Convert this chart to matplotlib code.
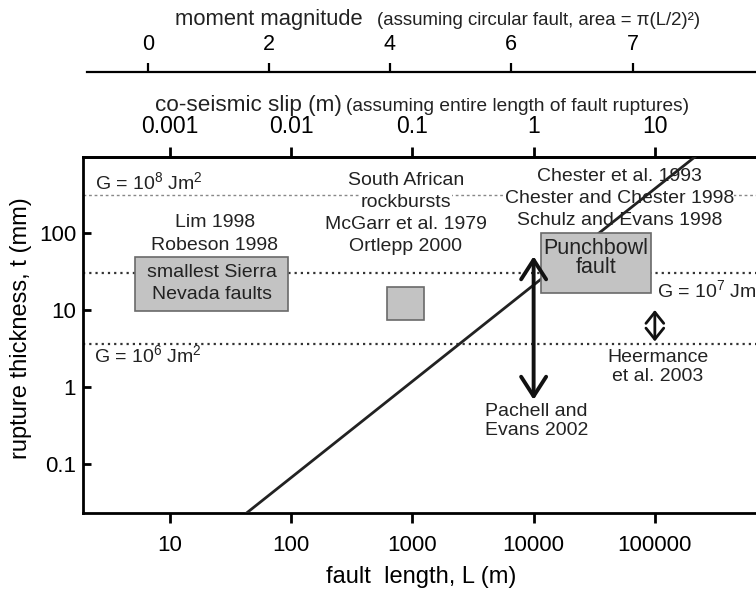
import matplotlib.pyplot as plt
from matplotlib.patches import Rectangle

plt.rcParams['font.family'] = ['Liberation Sans', 'DejaVu Sans']
plt.rcParams['mathtext.fontset'] = 'custom'
plt.rcParams['mathtext.rm'] = 'Liberation Sans'
plt.rcParams['mathtext.it'] = 'Liberation Sans:italic'
plt.rcParams['text.color'] = '#222222'

# eixos
x_ticks = [10, 100, 1000, 10000, 100000]
x_tick_labels = ['10', '100', '1000', '10000', '100000']
y_ticks = [0.1, 1, 10, 100]
y_tick_labels = ['0.1', '1', '10', '100']
slip_ticks = [0.001, 0.01, 0.1, 1, 10]
slip_tick_labels = ['0.001', '0.01', '0.1', '1', '10']
mag_labels = ['0', '2', '4', '6', '7']
mag_at_length = [6.6, 65.5, 652, 6490, 65800]

# linhas de energia de fratura G
G_labels = [r'G = 10$^{8}$ Jm$^{2}$', r'G = 10$^{7}$ Jm$^{2}$', r'G = 10$^{6}$ Jm$^{2}$']
G_thickness = [312, 30, 3.6]

# relacao de escala (linha diagonal)
scaling_L = [43, 214000]
scaling_t = [0.023, 980]

# caixas de dados
box_labels = ['smallest Sierra\nNevada faults', '', 'Punchbowl\nfault']
box_L_min = [5.1, 620, 11500]
box_L_max = [94, 1250, 93000]
box_t_min = [9.7, 7.4, 16.6]
box_t_max = [49, 20, 100]

# setas (intervalos)
arrow_L = [10000, 100000]
arrow_t_low = [0.68, 3.9]
arrow_t_high = [50, 10]


def fx(px):
    return px / 756


def fy(py):
    return 1 - py / 590


def bloco(ax, L, t, texto, espaco_px, size=14, fundo=False, z=2):
    # escreve cada linha separada, espaco fixo em pixels
    for i, linha in enumerate(texto.split('\n')):
        kw = {}
        if fundo:
            kw['bbox'] = dict(facecolor='white', edgecolor='none', pad=0.3)
        ax.annotate(linha, xy=(L, t), xytext=(0, -i * espaco_px * 0.72),
                    textcoords='offset points', ha='center', va='center',
                    fontsize=size, zorder=z, **kw)


fig = plt.figure(figsize=(7.56, 5.90), dpi=100)
ax = fig.add_axes([fx(83), fy(513), fx(770) - fx(83), fy(157) - fy(513)])
ax.set_xscale('log')
ax.set_yscale('log')
ax.set_xlim(10 ** 0.2825, 10 ** 5.95)
ax.set_ylim(10 ** -1.64, 10 ** 2.99)

for s in ['left', 'bottom', 'top']:
    ax.spines[s].set_linewidth(2)
ax.spines['right'].set_visible(False)

ax.set_xticks(x_ticks)
ax.set_xticklabels(x_tick_labels)
ax.set_yticks(y_ticks)
ax.set_yticklabels(y_tick_labels)
ax.minorticks_off()
ax.tick_params(axis='x', direction='out', length=7, width=2, labelsize=16, pad=9)
ax.tick_params(axis='y', direction='in', length=6, width=2, labelsize=16, pad=5)

ax.set_xlabel('fault  length, L (m)', fontsize=17)
ax.xaxis.set_label_coords((421 - 83) / (770 - 83), -(577 - 513) / (513 - 157))
ax.xaxis.label.set_va('center')
ax.set_ylabel('rupture thickness, t (mm)', fontsize=17)
ax.yaxis.set_label_coords(-(83 - 21) / (770 - 83), (513 - 328) / (513 - 157))
ax.yaxis.label.set_va('center')

# eixo superior: deslizamento co-sismico
sec = ax.secondary_xaxis('top', functions=(lambda L: L * 1e-4, lambda s: s * 1e4))
sec.set_xticks(slip_ticks)
sec.set_xticklabels(slip_tick_labels)
sec.minorticks_off()
sec.tick_params(direction='out', length=7, width=2, labelsize=16.5, pad=7)
sec.spines['top'].set_linewidth(2)

# eixo superior: magnitude
axm = fig.add_axes([fx(87), fy(72) - 0.0005, fx(770) - fx(87), 0.0005])
axm.set_xscale('log')
axm.set_xlim(10 ** 0.3155, 10 ** 5.95)
axm.patch.set_visible(False)
for s in ['left', 'right', 'bottom']:
    axm.spines[s].set_visible(False)
axm.spines['top'].set_linewidth(1.6)
axm.set_yticks([])
axm.set_xticks(mag_at_length)
axm.set_xticklabels(mag_labels)
axm.minorticks_off()
axm.tick_params(axis='x', top=True, bottom=False, labeltop=True, labelbottom=False,
                direction='out', length=6.5, width=1.6, labelsize=15.5, pad=5.5)

# titulos dos eixos superiores
fig.text(fx(175), fy(25), 'moment magnitude', fontsize=15.8, va='baseline')
fig.text(fx(377), fy(25), '(assuming circular fault, area = \u03c0(L/2)\u00b2)', fontsize=13.4, va='baseline')
fig.text(fx(155), fy(111), 'co-seismic slip (m)', fontsize=16.2, va='baseline')
fig.text(fx(346), fy(111), '(assuming entire length of fault ruptures)', fontsize=13.8, va='baseline')

# linhas G
ax.axhline(G_thickness[0], color='#888888', lw=1, ls=(0, (2, 2)), zorder=1)
ax.axhline(G_thickness[1], color='#333333', lw=1.6, ls=(0, (1, 1.8)), zorder=1)
ax.axhline(G_thickness[2], color='#333333', lw=1.6, ls=(0, (1, 1.8)), zorder=1)
ax.text(2.4, 459, G_labels[0], fontsize=14, va='center', ha='left')
ax.text(104000, 18.2, G_labels[1], fontsize=14, va='center', ha='left')
ax.text(2.35, 2.6, G_labels[2], fontsize=14, va='center', ha='left')

# linha diagonal
ax.plot(scaling_L, scaling_t, color='#222222', lw=2, zorder=3)

# caixas
for l0, l1, t0, t1 in zip(box_L_min, box_L_max, box_t_min, box_t_max):
    ax.add_patch(Rectangle((l0, t0), l1 - l0, t1 - t0, facecolor='#c3c3c3',
                           edgecolor='#6a6a6a', lw=1.2, zorder=4))
bloco(ax, 22.2, 31.2, box_labels[0], 22, z=5)
bloco(ax, 32600, 63.8, box_labels[2], 19, size=15.5, z=5)

# textos de referencia
bloco(ax, 23.5, 139, 'Lim 1998\nRobeson 1998', 23)
bloco(ax, 883, 488, 'South African\nrockbursts\nMcGarr et al. 1979\nOrtlepp 2000', 22, fundo=True)
bloco(ax, 50900, 550, 'Chester et al. 1993\nChester and Chester 1998\nSchulz and Evans 1998', 22, fundo=True)
bloco(ax, 10600, 0.473, 'Pachell and\nEvans 2002', 19)
bloco(ax, 106000, 2.38, 'Heermance\net al. 2003', 19)

# setas
ax.annotate('', xy=(arrow_L[0], arrow_t_high[0]), xytext=(arrow_L[0], arrow_t_low[0]),
            arrowprops=dict(arrowstyle='<->,head_length=0.7,head_width=0.45', lw=2.8,
                            color='#111111', shrinkA=0, shrinkB=0, mutation_scale=20),
            zorder=6)
ax.annotate('', xy=(arrow_L[1], arrow_t_high[1]), xytext=(arrow_L[1], arrow_t_low[1]),
            arrowprops=dict(arrowstyle='<->,head_length=0.5,head_width=0.4', lw=2,
                            color='#111111', shrinkA=0, shrinkB=0, mutation_scale=16),
            zorder=6)

fig.savefig('out.png', dpi=100)
